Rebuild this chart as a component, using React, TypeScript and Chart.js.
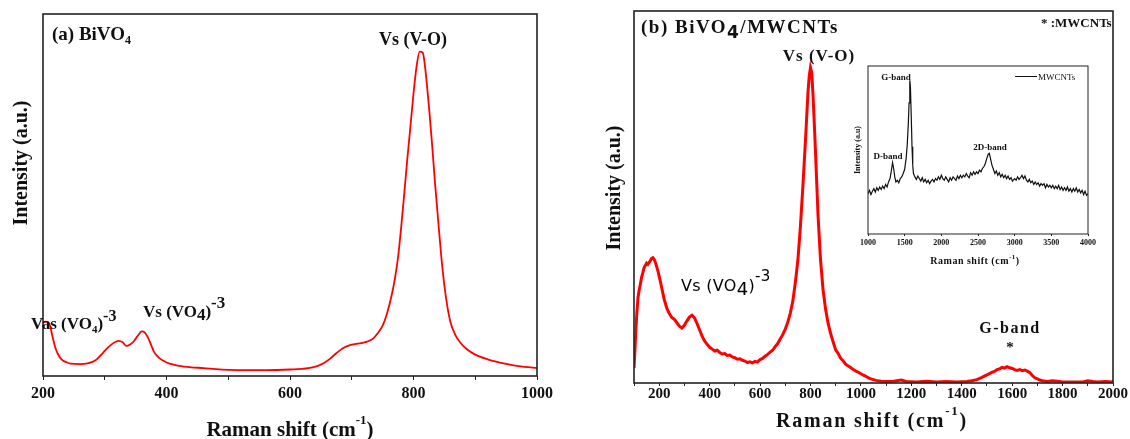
import React, { useEffect, useRef } from "react";
import { Chart, registerables } from "chart.js";

Chart.register(...registerables);

// ---------- DATA ----------
// Panel (a) BiVO4
const aShift = [200, 205, 210, 215, 220, 225, 230, 238, 245, 260, 270, 280, 287, 295, 303, 310, 317, 323, 329, 335, 341, 347, 353, 360, 365, 370, 375, 380, 388, 395, 405, 420, 440, 460, 480, 500, 530, 560, 600, 630, 645, 655, 665, 675, 685, 695, 705, 715, 725, 735, 742, 750, 757, 765, 770, 775, 780, 785, 790, 795, 800, 805, 810, 815, 819, 822, 826, 830, 835, 840, 845, 850, 855, 860, 867, 875, 885, 900, 920, 940, 960, 980, 1000];
const aIntensity = [14.8, 15.0, 14.6, 11.2, 7.8, 5.8, 4.6, 3.8, 3.4, 3.3, 3.4, 3.9, 4.6, 6.0, 7.5, 8.6, 9.4, 9.7, 9.3, 8.3, 8.7, 9.6, 11.0, 12.3, 12.0, 10.6, 8.6, 6.6, 5.0, 4.2, 3.4, 2.8, 2.4, 2.2, 1.9, 1.7, 1.6, 1.6, 1.8, 2.2, 2.8, 3.6, 4.8, 6.3, 7.6, 8.4, 8.8, 9.1, 9.5, 10.4, 11.8, 13.9, 17.2, 22.6, 27, 32.8, 41, 50.3, 60, 68.8, 78, 85.5, 89.6, 89.3, 85, 80, 72.5, 64.2, 53, 42.9, 33, 25, 19, 14.8, 11.6, 9.4, 7.6, 5.9, 4.6, 3.7, 3.0, 2.5, 2.2];
const aTicks = { min: 200, max: 1000, step: 100, labelEvery: 200 };

// Panel (b) BiVO4/MWCNTs
const bShift = [100, 104, 108, 112, 116, 120, 125, 130, 135, 140, 145, 150, 155, 160, 165, 170, 175, 180, 185, 190, 195, 200, 205, 210, 215, 220, 225, 230, 240, 250, 260, 270, 280, 290, 300, 310, 320, 330, 340, 350, 360, 370, 380, 390, 400, 410, 420, 430, 440, 450, 460, 470, 480, 490, 500, 510, 520, 530, 540, 550, 560, 570, 580, 590, 600, 610, 620, 630, 640, 650, 660, 670, 680, 690, 700, 710, 720, 730, 740, 750, 760, 770, 780, 785, 790, 795, 800, 805, 810, 815, 820, 825, 830, 840, 850, 860, 870, 880, 890, 900, 910, 920, 930, 940, 950, 960, 970, 980, 990, 1000, 1010, 1020, 1030, 1040, 1050, 1060, 1080, 1100, 1130, 1160, 1180, 1220, 1260, 1300, 1340, 1380, 1420, 1440, 1460, 1480, 1500, 1510, 1520, 1530, 1540, 1550, 1560, 1570, 1580, 1590, 1600, 1610, 1620, 1630, 1640, 1650, 1660, 1670, 1680, 1690, 1700, 1710, 1720, 1740, 1760, 1780, 1800, 1840, 1880, 1900, 1920, 1940, 1970, 2000];
const bIntensity = [4, 9, 15, 19.5, 23, 24.8, 26.5, 28.4, 29.6, 31, 31.6, 32.2, 31.9, 32.4, 32.9, 33.5, 33.7, 33.2, 32.4, 31.3, 30.1, 28.6, 27.2, 25.6, 24, 22.4, 21.3, 20.1, 18.7, 17.6, 17.1, 16.2, 15.3, 14.8, 15.5, 16.7, 17.7, 18.2, 17.5, 16, 14.3, 12.6, 11.3, 10.4, 9.6, 9.1, 8.6, 8.8, 8.2, 7.8, 7.9, 7.4, 7.5, 7, 6.8, 6.4, 6.5, 6.1, 5.9, 5.5, 5.7, 5.4, 5.8, 5.6, 6.3, 6.6, 7.2, 7.7, 8.3, 8.8, 9.8, 10.6, 11.8, 13, 14.5, 16.3, 18.8, 22, 27, 33, 42, 53, 65, 71.5, 78, 82.5, 84.8, 83.4, 77.5, 70, 62, 53.5, 45, 33, 25, 19.8, 16, 13.3, 11, 8.9, 7.9, 6.6, 5.9, 5, 4.6, 4.1, 3.6, 3.2, 2.9, 2.5, 2.1, 1.8, 1.4, 1.1, 0.9, 0.7, 0.5, 0.4, 0.5, 0.8, 0.4, 0.3, 0.5, 0.3, 0.4, 0.3, 0.4, 0.6, 0.9, 1.5, 2.2, 2.5, 2.9, 3.1, 3.6, 3.8, 4.2, 4.0, 4.4, 4.1, 3.9, 3.6, 3.4, 3.6, 3.3, 3.5, 3.2, 2.8, 2.0, 1.4, 1.1, 0.8, 0.6, 0.4, 0.6, 0.5, 0.3, 0.3, 0.3, 0.6, 0.4, 0.3, 0.4, 0.3];
const bTicks = { min: 100, max: 2000, step: 100, labelEvery: 200 };

// Inset: MWCNTs
const insetShift = [1000, 1020, 1040, 1060, 1080, 1100, 1120, 1140, 1160, 1180, 1200, 1220, 1240, 1260, 1280, 1300, 1320, 1335, 1350, 1365, 1380, 1400, 1420, 1440, 1460, 1480, 1500, 1520, 1535, 1550, 1560, 1570, 1578, 1590, 1600, 1610, 1620, 1640, 1660, 1680, 1700, 1720, 1740, 1760, 1780, 1800, 1820, 1840, 1860, 1880, 1900, 1920, 1940, 1960, 1980, 2000, 2020, 2040, 2060, 2080, 2100, 2120, 2140, 2160, 2180, 2200, 2220, 2240, 2260, 2280, 2300, 2320, 2340, 2360, 2380, 2400, 2420, 2440, 2460, 2480, 2500, 2520, 2540, 2560, 2580, 2600, 2620, 2640, 2655, 2670, 2690, 2710, 2730, 2750, 2770, 2790, 2810, 2830, 2850, 2870, 2890, 2910, 2930, 2950, 2970, 3000, 3020, 3040, 3060, 3080, 3100, 3120, 3140, 3160, 3180, 3200, 3220, 3240, 3260, 3280, 3300, 3320, 3340, 3360, 3380, 3400, 3420, 3440, 3460, 3480, 3500, 3520, 3540, 3560, 3580, 3600, 3620, 3640, 3660, 3680, 3700, 3720, 3740, 3760, 3780, 3800, 3820, 3840, 3860, 3880, 3900, 3920, 3940, 3960, 3980, 4000];
const insetIntensity = [24, 26, 23.5, 25.5, 27, 25, 27.5, 26, 28, 26.5, 28.5, 27, 29.5, 28, 31, 33, 38, 42.5, 39, 34, 31, 32, 30.5, 33, 34, 36, 38.5, 45, 53, 66, 78, 91.5, 88, 70, 52, 41, 36, 34, 32.5, 34.5, 33, 31.5, 33.5, 31, 32.5, 30.5, 32, 30, 31.5, 32.5, 31, 33, 32, 34, 32.5, 35, 33, 32, 34, 32.5, 31, 33.5, 32, 34, 33, 32, 34.5, 33, 35, 33.5, 35, 34, 36, 34.5, 33.5, 36.5, 35, 37, 35.5, 37, 36, 38, 37, 39, 40, 42, 45, 47.5, 48, 45, 41, 38.5, 36, 37.5, 35, 36.5, 34, 35.5, 33.5, 35, 33, 34.5, 32.5, 33.5, 31.5, 33, 32, 34, 32.5, 33.5, 35, 33, 34.5, 32, 31, 32.5, 30.5, 31.5, 29.5, 31, 29.5, 30.5, 28.5, 30, 29, 30, 27.5, 29.5, 28, 29, 27.5, 29, 27, 28.5, 27, 29, 26.5, 28, 26, 27.5, 26, 28, 25.5, 27, 25, 27, 25.5, 27.5, 25, 26.5, 24.5, 26, 23.5, 25.5, 23, 24];
const insetTicks = { min: 1000, max: 4000, step: 500, labelEvery: 500 };

// ---------- helpers ----------
type Seg = { t: string; size: number; dy?: number; font?: string; weight?: string };
const SERIF = "'Liberation Serif', 'Times New Roman', serif";
const SANS = "'DejaVu Sans', Verdana, sans-serif";

function drawRich(
  ctx: CanvasRenderingContext2D,
  segs: Seg[],
  x: number,
  y: number,
  align: "left" | "center",
  family = SERIF,
  weight = "bold",
  spacing = 0,
  color = "#111"
) {
  ctx.save();
  (ctx as any).letterSpacing = spacing + "px";
  ctx.textBaseline = "alphabetic";
  ctx.textAlign = "left";
  ctx.fillStyle = color;
  const fontOf = (s: Seg) => `${s.weight ?? weight} ${s.size}px ${s.font ?? family}`;
  let w = 0;
  for (const s of segs) {
    ctx.font = fontOf(s);
    w += ctx.measureText(s.t).width;
  }
  let cx = align === "center" ? x - w / 2 : x;
  for (const s of segs) {
    ctx.font = fontOf(s);
    ctx.fillText(s.t, cx, y + (s.dy || 0));
    cx += ctx.measureText(s.t).width;
  }
  ctx.restore();
}

function drawRotated(ctx: CanvasRenderingContext2D, text: string, cx: number, cy: number, size: number, offset: number, spacing = 0) {
  ctx.save();
  ctx.translate(cx, cy);
  ctx.rotate(-Math.PI / 2);
  drawRich(ctx, [{ t: text, size }], 0, offset, "center", SERIF, "bold", spacing);
  ctx.restore();
}

type Annot = (ctx: CanvasRenderingContext2D, chart: any) => void;

function framePlugin(lineWidth: number, annot: Annot) {
  return {
    id: "frame",
    afterDraw(chart: any) {
      const { ctx, chartArea: a } = chart;
      ctx.save();
      ctx.strokeStyle = "#222";
      ctx.lineWidth = lineWidth;
      ctx.strokeRect(a.left, a.top, a.right - a.left, a.bottom - a.top);
      ctx.restore();
      annot(ctx, chart);
    },
  };
}

function makeConfig(opts: {
  xs: number[];
  ys: number[];
  color: string;
  width: number;
  tension: number;
  ticks: { min: number; max: number; step: number; labelEvery: number };
  tickFont: any;
  tickPad: number;
  tickLen: number;
  padding: { left: number; right: number; top: number };
  xHeight: number;
  frameWidth: number;
  annot: Annot;
}) {
  const data = opts.xs.map((x, i) => ({ x, y: opts.ys[i] }));
  return {
    type: "line" as const,
    data: {
      datasets: [
        {
          data,
          borderColor: opts.color,
          borderWidth: opts.width,
          pointRadius: 0,
          tension: opts.tension,
          cubicInterpolationMode: opts.tension > 0 ? ("monotone" as const) : ("default" as const),
          fill: false,
        },
      ],
    },
    options: {
      responsive: false,
      animation: false as const,
      devicePixelRatio: 1,
      layout: { padding: { left: opts.padding.left, right: opts.padding.right, top: opts.padding.top, bottom: 0 } },
      plugins: { legend: { display: false }, tooltip: { enabled: false } },
      scales: {
        x: {
          type: "linear" as const,
          min: opts.ticks.min,
          max: opts.ticks.max,
          afterFit: (s: any) => {
            s.height = opts.xHeight;
          },
          ticks: {
            stepSize: opts.ticks.step,
            autoSkip: false,
            maxRotation: 0,
            padding: opts.tickPad,
            color: "#111",
            font: opts.tickFont,
            callback: (v: any) => (Number(v) % opts.ticks.labelEvery === 0 ? String(v) : ""),
          },
          grid: { display: true, drawOnChartArea: false, drawTicks: true, tickLength: opts.tickLen, color: "#222", lineWidth: 1 },
          border: { display: false },
        },
        y: { display: false, min: 0, max: 100 },
      },
    },
    plugins: [framePlugin(opts.frameWidth, opts.annot)],
  };
}

// ---------- annotations ----------
const annotA: Annot = (ctx) => {
  drawRich(ctx, [{ t: "(a) BiVO", size: 19 }, { t: "4", size: 12, dy: 4 }], 52, 40, "left");
  drawRich(ctx, [{ t: "Vs (V-O)", size: 18 }], 413, 45, "center");
  drawRich(ctx, [{ t: "Vas (VO", size: 17 }, { t: "4", size: 11, dy: 4 }, { t: ")", size: 17 }, { t: "-3", size: 16, dy: -8 }], 31, 329, "left");
  drawRich(ctx, [{ t: "Vs (VO", size: 17 }, { t: "4", size: 17, dy: 3 }, { t: ")", size: 17 }, { t: "-3", size: 17, dy: -9 }], 143, 317, "left");
  drawRich(ctx, [{ t: "Raman shift (cm", size: 21 }, { t: "-1", size: 13, dy: -12 }, { t: ")", size: 21 }], 290, 436, "center");
  drawRotated(ctx, "Intensity (a.u.)", 20, 163, 20, 7);
};

const OB = 570;
const annotB: Annot = (ctx) => {
  drawRich(ctx, [{ t: "(b) BiVO", size: 19 }, { t: "4", size: 17, dy: 5, font: SANS }, { t: "/MWCNTs", size: 19 }], 641 - OB, 33, "left", SERIF, "bold", 1.5);
  drawRich(ctx, [{ t: "* :MWCNTs", size: 13 }], 1041 - OB, 27, "left", SERIF, "bold", 0);
  drawRich(ctx, [{ t: "Vs (V-O)", size: 17 }], 819 - OB, 61, "center", SERIF, "bold", 1.0);
  drawRich(
    ctx,
    [{ t: "Vs (VO", size: 16 }, { t: "4", size: 18, dy: 4 }, { t: ")", size: 16 }, { t: "-3", size: 15, dy: -10 }],
    681 - OB,
    291,
    "left",
    SANS,
    "normal",
    0.3,
    "#000"
  );
  drawRich(ctx, [{ t: "G-band", size: 16 }], 1010 - OB, 333, "center", SERIF, "bold", 1.5);
  drawRich(ctx, [{ t: "*", size: 15 }], 1010 - OB, 352, "center", SERIF, "bold", 0);
  drawRich(ctx, [{ t: "Raman shift (cm", size: 20 }, { t: "-1", size: 13, dy: -12 }, { t: ")", size: 20 }], 872 - OB, 427, "center", SERIF, "bold", 1.8);
  drawRotated(ctx, "Intensity (a.u.)", 613 - OB, 188, 20, 7);
};

const OX = 840;
const OY = 50;
const annotInset: Annot = (ctx) => {
  drawRich(ctx, [{ t: "G-band", size: 9 }], 896 - OX, 80 - OY, "center", SERIF, "bold");
  drawRich(ctx, [{ t: "D-band", size: 9 }], 888 - OX, 159 - OY, "center", SERIF, "bold");
  drawRich(ctx, [{ t: "2D-band", size: 9 }], 990 - OX, 150 - OY, "center", SERIF, "bold");
  // legend
  ctx.save();
  ctx.strokeStyle = "#111";
  ctx.lineWidth = 1;
  ctx.beginPath();
  ctx.moveTo(1015 - OX, 76.5 - OY);
  ctx.lineTo(1037 - OX, 76.5 - OY);
  ctx.stroke();
  ctx.restore();
  drawRich(ctx, [{ t: "MWCNTs", size: 9 }], 1038 - OX, 79.5 - OY, "left", SERIF, "normal");
  drawRich(ctx, [{ t: "Raman shift (cm", size: 10 }, { t: "-1", size: 7, dy: -5 }, { t: ")", size: 10 }], 975 - OX, 264 - OY, "center", SERIF, "bold", 0.5);
  drawRotated(ctx, "Intensity (a.u)", 857 - OX, 150 - OY, 8, 3);
};

function ChartCanvas({ config, left, top, width, height }: any) {
  const ref = useRef<HTMLCanvasElement | null>(null);
  useEffect(() => {
    if (!ref.current) return;
    const chart = new Chart(ref.current, config);
    return () => chart.destroy();
  }, []);
  return <canvas ref={ref} width={width} height={height} style={{ position: "absolute", left, top, width, height }} />;
}

const configA = makeConfig({
  xs: aShift,
  ys: aIntensity,
  color: "#ff0000",
  width: 1.8,
  tension: 0.4,
  ticks: aTicks,
  tickFont: { family: SERIF, size: 16, weight: "bold" },
  tickPad: 4,
  tickLen: 4,
  padding: { left: 43, right: 23, top: 14 },
  xHeight: 63,
  frameWidth: 1.6,
  annot: annotA,
});

const configB = makeConfig({
  xs: bShift,
  ys: bIntensity,
  color: "#ff0000",
  width: 3,
  tension: 0,
  ticks: bTicks,
  tickFont: { family: SERIF, size: 15, weight: "bold" },
  tickPad: -1,
  tickLen: 3,
  padding: { left: 64, right: 17, top: 11 },
  xHeight: 56,
  frameWidth: 1.6,
  annot: annotB,
});

const configInset = makeConfig({
  xs: insetShift,
  ys: insetIntensity,
  color: "#111",
  width: 1.2,
  tension: 0,
  ticks: insetTicks,
  tickFont: { family: SERIF, size: 8, weight: "bold" },
  tickPad: 2,
  tickLen: 2,
  padding: { left: 28, right: 22, top: 16 },
  xHeight: 36,
  frameWidth: 1,
  annot: annotInset,
});

export default function App() {
  return (
    <div style={{ position: "absolute", left: 0, top: 0, width: 1130, height: 439, background: "#fff", overflow: "hidden" }}>
      <ChartCanvas config={configA} left={0} top={0} width={560} height={439} />
      <ChartCanvas config={configB} left={570} top={0} width={560} height={439} />
      <ChartCanvas config={configInset} left={840} top={50} width={270} height={220} />
    </div>
  );
}
